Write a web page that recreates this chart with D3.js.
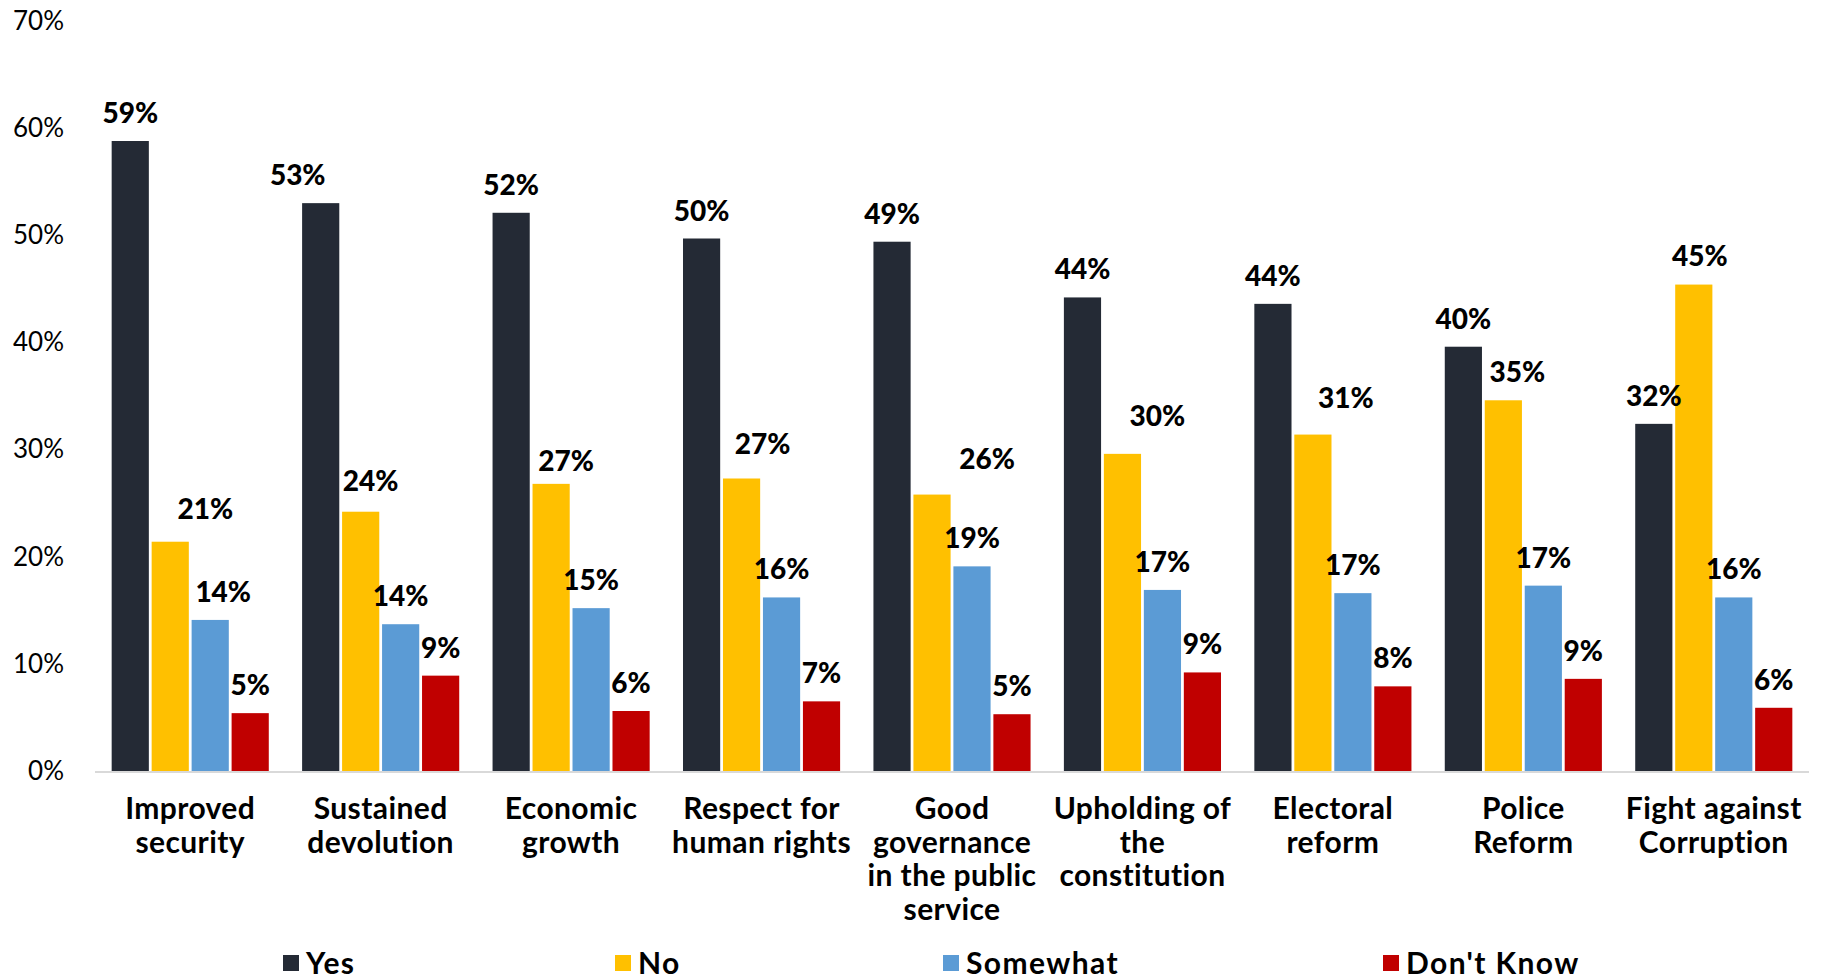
<!DOCTYPE html>
<html>
<head>
<meta charset="utf-8">
<script src="https://cdn.jsdelivr.net/npm/d3@7"></script>
<style>
  html, body { margin: 0; padding: 0; background: #fff; }
  svg { display: block; font-family: Lato, "Open Sans", sans-serif; }
</style>
</head>
<body>
<svg id="chart" width="1824" height="980"></svg>
<script>
// ---- data ----
const categories = [
  "Improved\nsecurity",
  "Sustained\ndevolution",
  "Economic\ngrowth",
  "Respect for\nhuman rights",
  "Good\ngovernance\nin the public\nservice",
  "Upholding of\nthe\nconstitution",
  "Electoral\nreform",
  "Police\nReform",
  "Fight against\nCorruption"
];
const seriesNames = ["Yes", "No", "Somewhat", "Don't Know"];
const yesValues      = [58.8, 53.0, 52.1, 49.7, 49.4, 44.2, 43.6, 39.6, 32.4];
const noValues       = [21.4, 24.2, 26.8, 27.3, 25.8, 29.6, 31.4, 34.6, 45.4];
const somewhatValues = [14.1, 13.7, 15.2, 16.2, 19.1, 16.9, 16.6, 17.3, 16.2];
const dontKnowValues = [5.4, 8.9, 5.6, 6.5, 5.3, 9.2, 7.9, 8.6, 5.9];
const yTickValues = [0, 10, 20, 30, 40, 50, 60, 70];

// ---- layout / style ----
const colors = ["#242A35", "#FFC000", "#5B9BD5", "#C00000"];
const seriesValues = [yesValues, noValues, somewhatValues, dontKnowValues];
// manual label nudges [dx, dy] (pixels) per series per category
const labelNudges = [
  [[0,0],[-23,0],[0,0],[0,0],[0,0],[0,0],[0,0],[0,0],[0,0]],
  [[35,-5],[10,-3],[15,5],[21,-7],[55,-8],[35,-10],[33,-9],[14,0],[6,-1]],
  [[13,0],[0,0],[0,0],[0,0],[0,0],[0,0],[0,0],[0,0],[0,0]],
  [[0,0],[0,0],[0,0],[0,0],[0,0],[0,0],[0,0],[0,0],[0,0]]
];
const legendX = [283, 615, 943, 1383];

const svg = d3.select("#chart");
const plot = { left: 95, right: 1809, top: 21, bottom: 771 };

const x0 = d3.scaleBand().domain(d3.range(categories.length))
  .range([plot.left, plot.right]).paddingInner(0.175).paddingOuter(0.0875);
const x1 = d3.scaleBand().domain(d3.range(seriesNames.length))
  .range([0, x0.bandwidth()]).paddingInner(0.07).paddingOuter(0);
const y = d3.scaleLinear().domain([0, 70]).range([plot.bottom, plot.top]);

// y axis labels
const yAxis = d3.axisLeft(y).tickValues(yTickValues).tickSize(0).tickPadding(0)
  .tickFormat(d => d + "%");
const yg = svg.append("g").attr("transform", `translate(64,0)`).call(yAxis);
yg.select(".domain").remove();
yg.selectAll("text").attr("font-size", 26).attr("fill", "#000")
  .attr("font-family", "Lato, sans-serif");

// bars
const groups = svg.append("g").selectAll("g")
  .data(categories).join("g")
  .attr("transform", (d, i) => `translate(${x0(i)},0)`);

groups.selectAll("rect")
  .data((d, i) => seriesValues.map((vals, s) => ({ s, i, v: vals[i] })))
  .join("rect")
  .attr("x", d => x1(d.s))
  .attr("width", x1.bandwidth())
  .attr("y", d => y(d.v))
  .attr("height", d => y(0) - y(d.v))
  .attr("fill", d => colors[d.s]);

// axis baseline
svg.append("line")
  .attr("x1", plot.left).attr("x2", plot.right)
  .attr("y1", y(0) + 1).attr("y2", y(0) + 1)
  .attr("stroke", "#D9D9D9").attr("stroke-width", 2);

// value labels
groups.selectAll("text.val")
  .data((d, i) => seriesValues.map((vals, s) => ({ s, i, v: vals[i] })))
  .join("text").attr("class", "val")
  .attr("x", d => x1(d.s) + x1.bandwidth() / 2 + labelNudges[d.s][d.i][0])
  .attr("y", d => y(d.v) - 29 + labelNudges[d.s][d.i][1])
  .attr("text-anchor", "middle")
  .attr("dominant-baseline", "central")
  .attr("font-size", 28).attr("font-weight", 900).attr("fill", "#000")
  .text(d => Math.round(d.v) + "%");

// category labels
groups.append("text")
  .attr("text-anchor", "middle")
  .attr("font-size", 30).attr("font-weight", "bold").attr("fill", "#000")
  .attr("letter-spacing", 0.4)
  .selectAll("tspan")
  .data(d => d.split("\n"))
  .join("tspan")
  .attr("x", x0.bandwidth() / 2)
  .attr("y", (d, k) => 807 + k * 33.7)
  .attr("dominant-baseline", "central")
  .text(d => d);

// legend
const lg = svg.append("g").selectAll("g").data(seriesNames).join("g")
  .attr("transform", (d, i) => `translate(${legendX[i]},962)`);
lg.append("rect").attr("x", 0).attr("y", -7).attr("width", 16).attr("height", 16)
  .attr("fill", (d, i) => colors[i]);
lg.append("text").attr("x", 23).attr("y", 0).attr("dominant-baseline", "central")
  .attr("font-size", 30).attr("font-weight", "bold").attr("fill", "#000")
  .attr("letter-spacing", 1.4)
  .text(d => d);
</script>
</body>
</html>
